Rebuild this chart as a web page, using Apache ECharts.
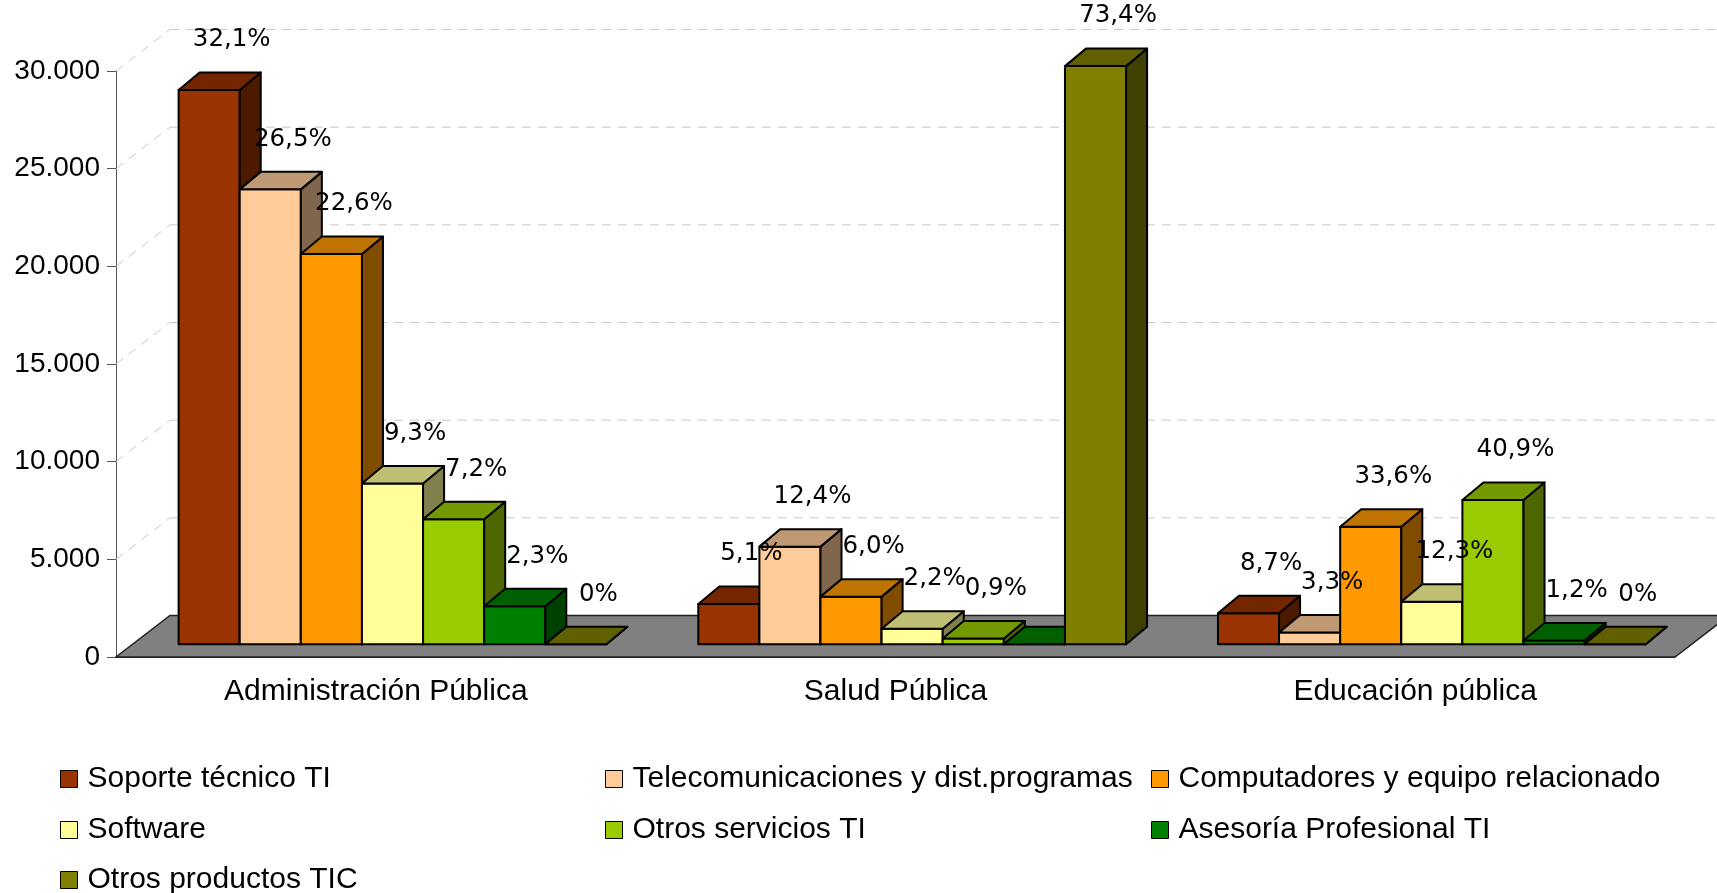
<!DOCTYPE html>
<html>
<head>
<meta charset="utf-8">
<title>Ventas TI por sector</title>
<script src="https://cdn.jsdelivr.net/npm/echarts@6/dist/echarts.min.js"></script>
<style>
  html, body { margin: 0; padding: 0; background: #fff; }
  #chart { width: 1717px; height: 893px; }
</style>
</head>
<body>
<div id="chart"></div>
<script>
const categories = ['Administración Pública', 'Salud Pública', 'Educación pública'];
const seriesNames = [
  'Soporte técnico TI',
  'Telecomunicaciones y dist.programas',
  'Computadores y equipo relacionado',
  'Software',
  'Otros servicios TI',
  'Asesoría Profesional TI',
  'Otros productos TIC'
];

// values, one entry per category
const soporte = [28380, 2060, 1590];
const telecom = [23290, 5000, 600];
const computadores = [19980, 2440, 6020];
const software = [8230, 800, 2180];
const otrosServicios = [6400, 300, 7390];
const asesoria = [1950, 0, 200];
const otrosProductos = [0, 29600, 0];

// percentage labels over the bars ('' = no label)
const soportePct = ['32,1%', '5,1%', '8,7%'];
const telecomPct = ['26,5%', '12,4%', '3,3%'];
const computadoresPct = ['22,6%', '6,0%', '33,6%'];
const softwarePct = ['9,3%', '2,2%', '12,3%'];
const otrosServiciosPct = ['7,2%', '0,9%', '40,9%'];
const asesoriaPct = ['2,3%', '', '1,2%'];
const otrosProductosPct = ['0%', '73,4%', '0%'];

const yTicks = [0, 5000, 10000, 15000, 20000, 25000, 30000];

const seriesValues = [soporte, telecom, computadores, software, otrosServicios, asesoria, otrosProductos];
const seriesPct = [soportePct, telecomPct, computadoresPct, softwarePct, otrosServiciosPct, asesoriaPct, otrosProductosPct];
const colors = ['#993300', '#ffcc99', '#ff9900', '#ffff99', '#99cc00', '#008000', '#808000'];

// fake 3d look
const DEPTH = [54, -41.5];     // floor / wall depth in px
const BAR_FRONT = 0.306;       // bars start this far into the floor
const BAR_DEPTH = [21, -17.5];
const BAR_W = 0.1176;          // share of the category band
const GROUP_LEFT = 0.3795;

const font = 'Liberation Sans';

function shade(hex, k) {
  const n = parseInt(hex.slice(1), 16);
  const r = Math.round((n >> 16) * k);
  const g = Math.round(((n >> 8) & 255) * k);
  const b = Math.round((n & 255) * k);
  return 'rgb(' + r + ',' + g + ',' + b + ')';
}

function barBox(api, s, cat, v) {
  const band = api.size([1, 0])[0];
  const c = api.coord([cat, v]);
  const b = api.coord([cat, 0]);
  const w = band * BAR_W;
  const x = c[0] - band * GROUP_LEFT + s * w;
  const oy = DEPTH[1] * BAR_FRONT;
  return { x: x, w: w, top: c[1] + oy, bot: b[1] + oy };
}

function renderBar(s) {
  return function (params, api) {
    const box = barBox(api, s, api.value(0), api.value(1));
    const x = box.x, w = box.w, t = box.top, bt = box.bot;
    const dx = BAR_DEPTH[0], dy = BAR_DEPTH[1];
    const line = { stroke: '#000', lineWidth: 2, lineJoin: 'round' };
    return {
      type: 'group',
      children: [
        { type: 'rect', shape: { x: x, y: t, width: w, height: bt - t },
          style: Object.assign({ fill: colors[s] }, line) },
        { type: 'polygon', shape: { points: [[x + w, t], [x + w + dx, t + dy], [x + w + dx, bt + dy], [x + w, bt]] },
          style: Object.assign({ fill: shade(colors[s], 0.5) }, line) },
        { type: 'polygon', shape: { points: [[x, t], [x + w, t], [x + w + dx, t + dy], [x + dx, t + dy]] },
          style: Object.assign({ fill: shade(colors[s], 0.75) }, line) }
      ]
    };
  };
}

function renderFrame(params, api) {
  const band = api.size([1, 0])[0];
  const first = api.coord([0, 0]);
  const last = api.coord([categories.length - 1, 0]);
  const x0 = first[0] - band / 2, x1 = last[0] + band / 2, y0 = first[1];
  const dx = DEPTH[0], dy = DEPTH[1];
  const right = api.getWidth();
  const grid = { stroke: '#c8c8c8', lineWidth: 1, lineDash: [9, 7] };
  const children = [];
  yTicks.forEach(function (t) {
    const y = api.coord([0, t])[1];
    children.push({ type: 'line', shape: { x1: x0, y1: y, x2: x0 + dx, y2: y + dy }, style: grid });
    children.push({ type: 'line', shape: { x1: x0 + dx, y1: y + dy, x2: right, y2: y + dy }, style: grid });
  });
  children.push({
    type: 'polygon',
    shape: { points: [[x0, y0], [x1, y0], [x1 + dx, y0 + dy], [x0 + dx, y0 + dy]] },
    style: { fill: '#808080', stroke: '#222', lineWidth: 1.5 }
  });
  return { type: 'group', children: children };
}

const labelData = [];
const labelText = [];
seriesValues.forEach(function (vals, s) {
  vals.forEach(function (v, i) {
    if (seriesPct[s][i]) {
      labelData.push([i, v, s]);
      labelText.push(seriesPct[s][i]);
    }
  });
});

function renderLabel(params, api) {
  const s = api.value(2);
  const box = barBox(api, s, api.value(0), api.value(1));
  return {
    type: 'text',
    x: box.x + box.w - 8,
    y: box.top - 50,
    style: {
      text: labelText[params.dataIndex],
      fill: '#000',
      fontSize: 24.5,
      fontFamily: 'DejaVu Sans',
      align: 'center',
      verticalAlign: 'middle'
    }
  };
}

const series = [{
  type: 'custom',
  name: 'frame',
  silent: true,
  renderItem: renderFrame,
  data: [[0, 0]],
  z: 1
}];
seriesValues.forEach(function (vals, s) {
  series.push({
    type: 'custom',
    name: seriesNames[s],
    renderItem: renderBar(s),
    itemStyle: { color: colors[s] },
    data: vals.map(function (v, i) { return [i, v]; }),
    z: 2
  });
});
series.push({
  type: 'custom',
  name: 'labels',
  silent: true,
  renderItem: renderLabel,
  data: labelData,
  z: 3
});

// legend: three columns
const legendCols = [60, 605, 1151];
const legendRows = [764, 815, 865];
const legends = seriesNames.map(function (name, i) {
  return {
    data: [name],
    left: legendCols[i % 3],
    top: legendRows[Math.floor(i / 3)],
    padding: 0,
    itemWidth: 17,
    itemHeight: 17,
    icon: 'rect',
    selectedMode: false,
    itemStyle: { borderColor: '#000', borderWidth: 1 },
    textStyle: { fontSize: 30, fontFamily: font, color: '#000', lineHeight: 30, padding: [0, 0, 0, 5] }
  };
});

const chart = echarts.init(document.getElementById('chart'));
chart.setOption({
  animation: false,
  backgroundColor: '#fff',
  grid: { left: 116, right: 42, top: 71, bottom: 236 },
  legend: legends,
  xAxis: {
    type: 'category',
    data: categories,
    axisLine: { lineStyle: { color: '#333' } },
    axisTick: { length: 10, lineStyle: { color: '#555' } },
    axisLabel: { fontSize: 30, fontFamily: font, color: '#000', margin: 20 }
  },
  yAxis: {
    type: 'value',
    min: 0,
    max: 30000,
    interval: 5000,
    axisLine: { show: true, lineStyle: { color: '#555' } },
    axisTick: { show: true, length: 9, lineStyle: { color: '#555' } },
    axisLabel: {
      fontSize: 28,
      fontFamily: font,
      color: '#000',
      margin: 16,
      formatter: function (v) { return String(v).replace(/\B(?=(\d{3})+(?!\d))/g, '.'); }
    },
    splitLine: { show: false }
  },
  series: series
});
</script>
</body>
</html>
